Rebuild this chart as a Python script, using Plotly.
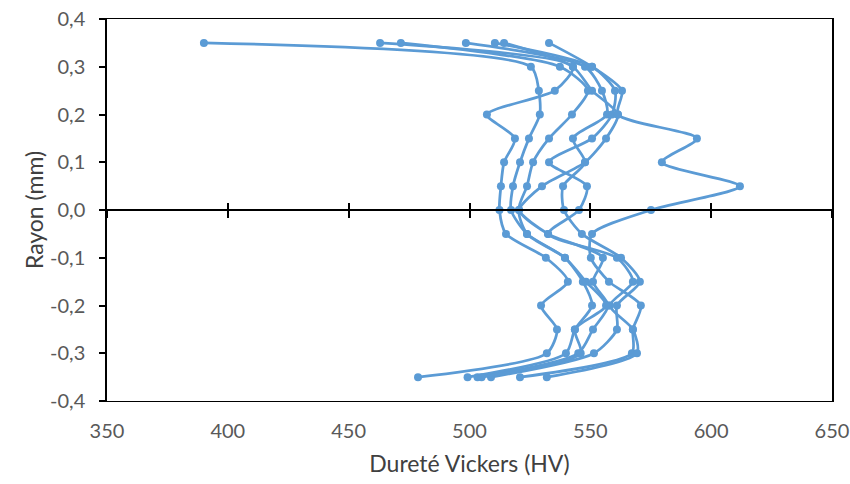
import plotly.graph_objects as go

# radial positions (mm)
rayon = [0.35, 0.30, 0.25, 0.20, 0.15, 0.10, 0.05, 0.0,
         -0.05, -0.10, -0.15, -0.20, -0.25, -0.30, -0.35]

# Vickers hardness profiles (HV)
hv_1 = [390.1, 525.4, 528.7, 529.1, 524.6, 520.9, 518.0, 517.2,
        523.8, 539.5, 546.9, 550.7, 543.6, 539.9, 499.2]
hv_2 = [463.0, 542.8, 535.3, 507.2, 518.8, 514.3, 513.0, 512.4,
        515.1, 531.6, 540.7, 529.6, 536.2, 532.0, 478.7]
hv_3 = [532.9, 550.7, 563.1, 561.4, 594.1, 579.6, 611.9, 575.1,
        550.7, 550.2, 557.7, 570.9, 567.6, 567.2, 520.9]
hv_4 = [471.6, 537.4, 549.0, 542.4, 532.9, 526.3, 523.8, 520.5,
        532.5, 555.2, 551.1, 557.4, 551.1, 545.0, 503.3]
hv_5 = [498.5, 547.8, 554.8, 556.9, 542.8, 547.8, 538.7, 539.1,
        546.5, 562.7, 570.5, 561.0, 561.0, 551.5, 508.9]
hv_6 = [510.5, 550.7, 560.2, 559.0, 550.7, 532.9, 548.6, 545.3,
        532.5, 561.0, 567.6, 558.1, 567.6, 569.3, 532.0]
hv_7 = [514.3, 542.8, 550.7, 561.4, 556.5, 547.8, 530.0, 520.5,
        523.8, 539.5, 548.2, 556.5, 543.6, 546.0, 505.0]

x_ticks = [350, 400, 450, 500, 550, 600, 650]
y_ticks = [0.4, 0.3, 0.2, 0.1, 0.0, -0.1, -0.2, -0.3, -0.4]
y_labels = ["0,4", "0,3", "0,2", "0,1", "0,0", "-0,1", "-0,2", "-0,3", "-0,4"]

blue = "#5B9BD5"
fig = go.Figure()
for hv in [hv_1, hv_2, hv_3, hv_4, hv_5, hv_6, hv_7]:
    fig.add_trace(go.Scatter(
        x=hv, y=rayon, mode="lines+markers",
        line=dict(color=blue, width=2.75, shape="spline", smoothing=0.7),
        marker=dict(color=blue, size=8),
        showlegend=False, hoverinfo="skip"))

tick_font = dict(family="Lato, Liberation Sans, sans-serif", size=20, color="#595959")
title_font = dict(family="Lato, Liberation Sans, sans-serif", size=23, color="#404040")

fig.update_layout(
    width=850, height=484,
    margin=dict(l=107, r=18, t=19, b=83),
    paper_bgcolor="white", plot_bgcolor="white",
    xaxis=dict(range=[350, 650], tickvals=x_ticks, showgrid=False, zeroline=False,
               showline=True, mirror=True, linecolor="black", linewidth=1,
               ticks="", tickfont=tick_font, automargin=False, ticklabelstandoff=12,
               title=dict(text="Dureté Vickers (HV)", font=title_font, standoff=14)),
    # horizontal axis drawn through y = 0, ticks crossing the line
    xaxis2=dict(range=[350, 650], tickvals=x_ticks, overlaying="x", anchor="free",
                position=0.5, side="bottom", showgrid=False, zeroline=False,
                showline=True, linecolor="black", linewidth=1.5,
                ticks="outside", ticklen=7, tickwidth=1.5, tickcolor="black",
                showticklabels=False),
    xaxis3=dict(range=[350, 650], tickvals=x_ticks, overlaying="x", anchor="free",
                position=0.5, side="bottom", showgrid=False, zeroline=False,
                showline=False, ticks="inside", ticklen=7, tickwidth=1.5,
                tickcolor="black", showticklabels=False),
    yaxis=dict(range=[-0.4, 0.4], tickvals=y_ticks, ticktext=y_labels,
               showgrid=False, zeroline=False, showline=True, mirror=True,
               linecolor="black", linewidth=1.5, ticks="outside", ticklen=6,
               tickwidth=1.5, tickcolor="black", tickfont=tick_font, automargin=False,
               ticklabelstandoff=10,
               title=dict(text="Rayon (mm)", font=title_font, standoff=0)),
)
# invisible traces to activate the overlay axes
fig.add_trace(go.Scatter(x=[350], y=[0], xaxis="x2", mode="markers",
                         marker=dict(opacity=0), showlegend=False, hoverinfo="skip"))
fig.add_trace(go.Scatter(x=[350], y=[0], xaxis="x3", mode="markers",
                         marker=dict(opacity=0), showlegend=False, hoverinfo="skip"))

fig.write_html("out.html", config={"displayModeBar": False},
               post_script="document.body.style.margin='0';")
